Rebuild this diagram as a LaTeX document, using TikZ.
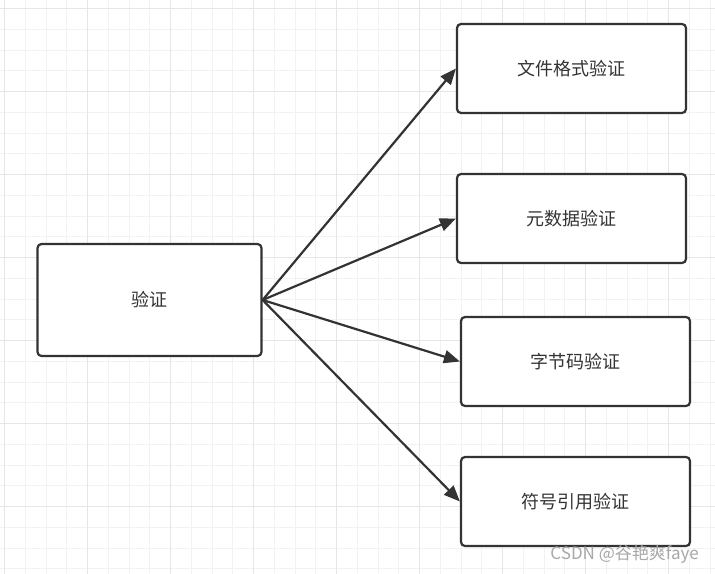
\documentclass[tikz,border=0pt]{standalone}
\usepackage{fontspec}
\setmainfont{Noto Sans CJK SC}
\usetikzlibrary{arrows.meta}
\definecolor{ink}{HTML}{333333}
\definecolor{gridminor}{HTML}{F2F2F2}
\definecolor{gridmajor}{HTML}{E6E6E6}
\definecolor{wm}{HTML}{A8A8A8}
\tikzset{
  box/.style={draw=ink, line width=2.2bp, rounded corners=4bp, fill=white,
    minimum width=#1, minimum height=89bp, inner sep=0pt, text=ink,
    font=\fontsize{18bp}{20bp}\selectfont},
  box/.default=229bp,
  conn/.style={draw=ink, line width=2.2bp, -{Triangle[length=16bp,width=13bp]}},
}
\begin{document}
\begin{tikzpicture}[x=1bp,y=-1bp]
\useasboundingbox (0,0) rectangle (715,574);
\fill[white] (0,0) rectangle (715,574);
% grid
\foreach \i in {0,...,34} {
  \pgfmathsetmacro\xx{4.7+20.75*\i}
  \draw[gridminor, line width=1bp] (\xx,0) -- (\xx,574);
}
\foreach \i in {0,...,27} {
  \pgfmathsetmacro\yy{8.7+20.75*\i}
  \draw[gridminor, line width=1bp] (0,\yy) -- (715,\yy);
}
\foreach \i in {0,...,8} {
  \pgfmathsetmacro\xx{4.7+83*\i}
  \draw[gridmajor, line width=1bp] (\xx,0) -- (\xx,574);
}
\foreach \i in {0,...,6} {
  \pgfmathsetmacro\yy{8.7+83*\i}
  \draw[gridmajor, line width=1bp] (0,\yy) -- (715,\yy);
}
% nodes
\node[box=224bp, minimum height=112bp] (root) at (149.5,300) {验证};
\node[box] (a) at (571.5,68.5) {文件格式验证};
\node[box] (b) at (571.5,218.5) {元数据验证};
\node[box] (c) at (575.5,361.5) {字节码验证};
\node[box] (d) at (575.5,501.5) {符号引用验证};
% connectors
\coordinate (o) at (root.east);
\draw[conn] (o) -- (a.west);
\draw[conn] (o) -- (b.west);
\draw[conn] (o) -- (c.west);
\draw[conn] (o) -- (d.west);
% watermark
\node[text=wm, font=\fontsize{17bp}{19bp}\selectfont, anchor=east, inner sep=0pt] (wmk) at (699,554) {CSDN @谷艳爽faye};
\end{tikzpicture}
\end{document}
